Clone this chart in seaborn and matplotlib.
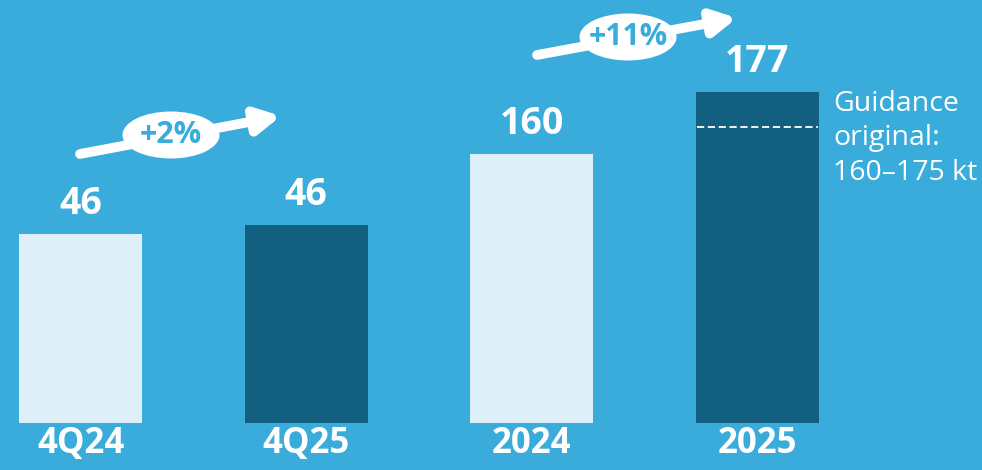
import pandas as pd
import seaborn as sns
import matplotlib.pyplot as plt
from matplotlib.patches import Ellipse

# data
categories = ['4Q24', '4Q25', '2024', '2025']
quarters = ['4Q24', '4Q25']
quarter_values = [45.6, 46.4]
years = ['2024', '2025']
year_values = [160, 177]
guidance_low, guidance_high = 160, 175
guidance_text = 'Guidance\noriginal:\n160–175 kt'

bg = '#3aacdb'
light = '#ddf0f9'
dark = '#125f80'

sns.set_style('white')
plt.rcParams['font.family'] = ['Open Sans', 'DejaVu Sans']

fig = plt.figure(figsize=(9.82, 4.70), dpi=100, facecolor=bg)
ax = fig.add_axes([0, 47 / 470, 1, 423 / 470])
ax2 = ax.twinx()
ax.set_facecolor(bg)
ax2.patch.set_visible(False)

q_df = pd.DataFrame({'cat': quarters, 'val': quarter_values})
y_df = pd.DataFrame({'cat': years, 'val': year_values})
pal = {'4Q24': light, '4Q25': dark, '2024': light, '2025': dark}

sns.barplot(data=q_df, x='cat', y='val', order=categories, hue='cat', palette=pal,
            width=0.545, saturation=1, legend=False, linewidth=0, ax=ax)
sns.barplot(data=y_df, x='cat', y='val', order=categories, hue='cat', palette=pal,
            width=0.545, saturation=1, legend=False, linewidth=0, ax=ax2)

ax.set_ylim(28.8, 66.4)
ax2.set_ylim(86.2, 202.2)
ax.set_xlim(-0.357, 3.995)

# value labels
for a in (ax, ax2):
    for cont in a.containers:
        a.bar_label(cont, labels=[f'{v:.0f}' for v in cont.datavalues], padding=8,
                    color='white', fontsize=27, fontweight='bold')

# guidance dashed line (midpoint of range) and text
mid = (guidance_low + guidance_high) / 2
ax2.hlines(mid, 3 - 0.27, 3 + 0.27, colors='white', linestyles=(0, (4, 2)), lw=1.3)
ax2.text(3 + 0.335, 177.5, guidance_text, color='white', fontsize=20.5,
         va='top', ha='left', linespacing=1.3)

# axes styling
for a in (ax, ax2):
    a.set_xlabel('')
    a.set_ylabel('')
    a.set_yticks([])
    for s in a.spines.values():
        s.set_visible(False)
ax.tick_params(axis='x', length=0, pad=2, labelsize=25, labelcolor='white')
for t in ax.get_xticklabels():
    t.set_fontweight('bold')
ax2.tick_params(axis='x', length=0)


# growth arrows
def growth_arrow(x0, y0, x1, y1, cx, cy, text):
    W, H = 982, 470
    fig.add_artist(plt.Annotation('', xy=(x1 / W, 1 - y1 / H), xytext=(x0 / W, 1 - y0 / H),
                                  xycoords='figure fraction', textcoords='figure fraction',
                                  arrowprops=dict(arrowstyle='-|>,head_length=1.4,head_width=0.75',
                                                  color='white', lw=7, shrinkA=0, shrinkB=0)))
    fig.add_artist(Ellipse((cx / W, 1 - cy / H), 97 / W, 47 / H, transform=fig.transFigure,
                           facecolor='white', edgecolor='none'))
    fig.text(cx / W, 1 - cy / H, text, color=bg, fontsize=22, fontweight='bold',
             ha='center', va='center')


q_growth = (quarter_values[1] / quarter_values[0] - 1) * 100
y_growth = (year_values[1] / year_values[0] - 1) * 100
growth_arrow(80, 154, 281, 116, 171, 135, f'+{q_growth:.0f}%')
growth_arrow(537, 55, 737, 18, 628, 37, f'+{y_growth:.0f}%')

fig.savefig('out.png', dpi=100, facecolor=bg)
